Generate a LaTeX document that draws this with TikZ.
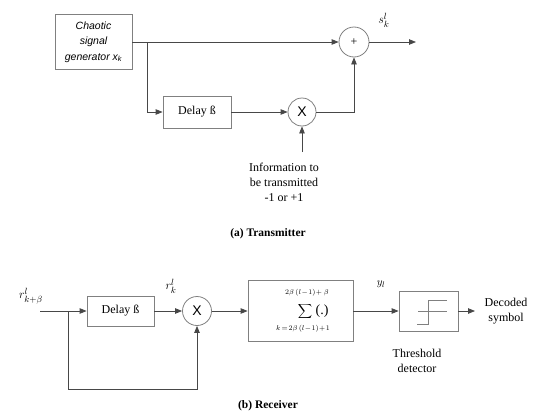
\documentclass[tikz,border=0pt]{standalone}
\usepackage{fontspec}
\setmainfont{Liberation Serif}
\setsansfont{Liberation Sans}
\usetikzlibrary{arrows.meta}
\begin{document}
\begin{tikzpicture}[x=1pt,y=-1pt,
  line/.style={draw=black!72, line width=0.8pt},
  arr/.style={line, -{Triangle[length=7pt,width=5.5pt]}},
  blk/.style={draw=black!50, line width=0.8pt, fill=white, inner sep=0pt},
  circ/.style={draw=black!50, line width=0.8pt, circle, inner sep=0pt, minimum size=#1},
  lbl/.style={inner sep=0pt, font=\fontsize{12}{15}\selectfont, align=center},
  captxt/.style={inner sep=0pt, font=\fontsize{11.5}{13}\selectfont\bfseries}]
\useasboundingbox (0,0) rectangle (535,415);
% ---------- Transmitter ----------
\node[blk, minimum width=77pt, minimum height=55pt, align=center,
  font=\sffamily\itshape\fontsize{10.5}{15.5}\selectfont] (gen) at (93.5,42)
  {Chaotic\\signal\\generator x\textsubscript{k}};
\node[circ=30pt, font=\fontsize{12}{12}\selectfont] (sum) at (354,42) {+};
\coordinate (br1) at (147,42);
\coordinate (out1) at (416,42);
\node[blk, minimum width=68pt, minimum height=32pt, font=\fontsize{12}{13}\selectfont] (del1) at (197,112) {Delay ß};
\node[circ=28pt, font=\sffamily\fontsize{14}{14}\selectfont] (mul1) at (302,112) {X};
\coordinate (cor1) at (354,112);
\coordinate (inf) at (302,152);
\node[lbl] (info) at (284,182) {Information to\\be transmitted\\-1 or +1};
\node[lbl, font=\fontsize{13}{13}\selectfont] (slbl) at (384,20) {$s_k^l$};
\node[captxt] (capa) at (268,234) {(a) Transmitter};
\draw[arr] (gen.east) -- (sum.west);
\draw[arr] (br1) |- (del1.west);
\draw[arr] (del1.east) -- (mul1.west);
\draw[arr] (mul1.east) -- (cor1) -- (sum.south);
\draw[arr] (inf) -- (mul1.south);
\draw[arr] (sum.east) -- (out1);
% ---------- Receiver ----------
\coordinate (in2) at (40,311);
\coordinate (br2) at (68,311);
\coordinate (lp) at (68,389);
\node[blk, minimum width=67pt, minimum height=30pt, font=\fontsize{12}{13}\selectfont] (del2) at (120.5,311) {Delay ß};
\node[circ=29pt, font=\sffamily\fontsize{14}{14}\selectfont] (mul2) at (197,311) {X};
\node[blk, minimum width=105pt, minimum height=61pt] (acc) at (300.5,311) {};
\node[inner sep=0pt, font=\fontsize{21}{21}\selectfont] (sig) at (305,311) {$\displaystyle\sum$};
\node[inner sep=0pt, font=\fontsize{14}{14}\selectfont] (par) at (322,311) {(.)};
\node[inner sep=0pt, font=\fontsize{7.5}{7.5}\selectfont] (up) at (307,293) {$2\beta\,(l\!-\!1)\!+\beta$};
\node[inner sep=0pt, font=\fontsize{7.5}{7.5}\selectfont] (lo) at (303,329) {$k\!=\!2\beta\,(l\!-\!1)\!+\!1$};
\node[blk, minimum width=59pt, minimum height=40pt] (thr) at (428.5,311) {};
\draw[draw=black!50, line width=0.8pt] (418,311) -- (447,311);
\draw[draw=black!50, line width=0.8pt] (417,324) -- (428,324) -- (428,300) -- (447,300);
\coordinate (out2) at (475,311);
\node[lbl] (dec) at (506,311) {Decoded\\symbol};
\node[lbl] (thl) at (417,361) {Threshold\\detector};
\node[lbl, font=\fontsize{13}{13}\selectfont] (rin) at (31,296) {$r^l_{k+\beta}$};
\node[lbl, font=\fontsize{13}{13}\selectfont] (rk) at (171,286) {$r_k^l$};
\node[lbl, font=\fontsize{11}{11}\selectfont] (yl) at (381,284) {$y_l$};
\node[captxt] (capb) at (268,406) {(b) Receiver};
\draw[line] (in2) -- (br2);
\draw[arr] (br2) -- (del2.west);
\draw[arr] (del2.east) -- (mul2.west);
\draw[arr] (br2) -- (lp) -| (mul2.south);
\draw[arr] (mul2.east) -- (acc.west);
\draw[arr] (acc.east) -- (thr.west);
\draw[arr] (thr.east) -- (out2);
\end{tikzpicture}
\end{document}
